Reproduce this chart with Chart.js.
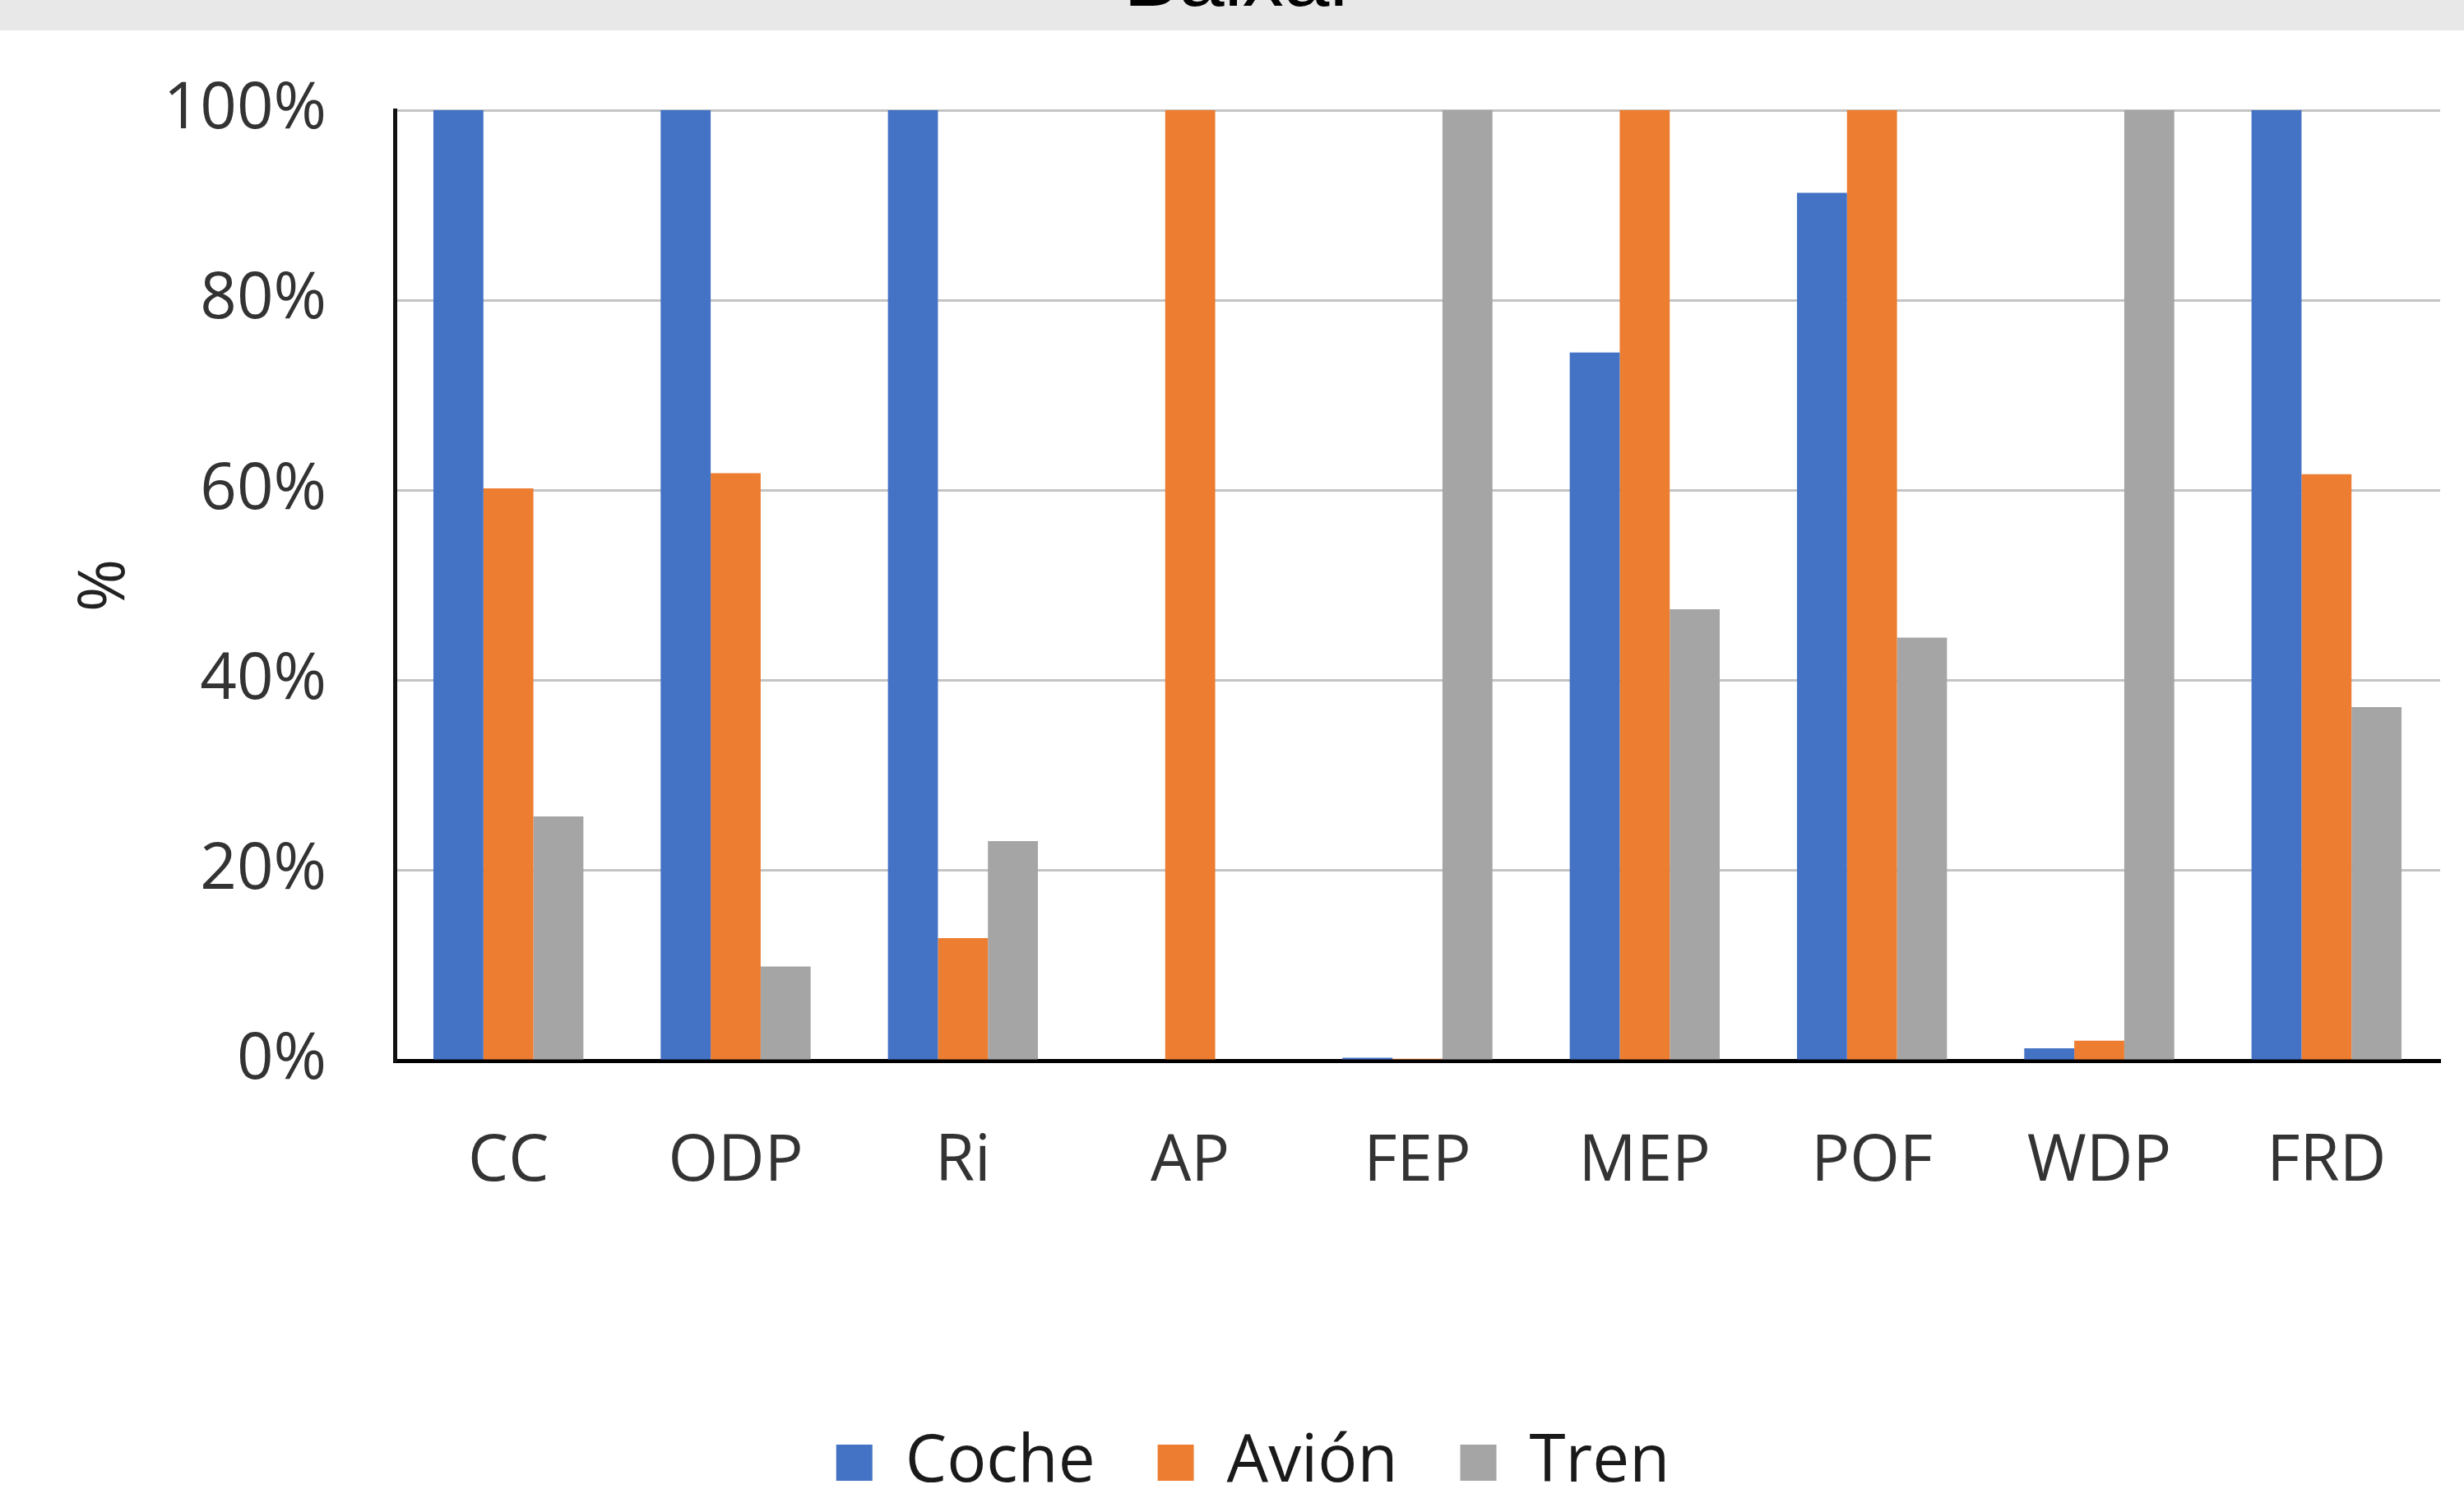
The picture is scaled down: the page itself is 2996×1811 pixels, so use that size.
<!DOCTYPE html>
<html>
<head>
<meta charset="utf-8">
<script src="https://cdn.jsdelivr.net/npm/chart.js@4.4.1/dist/chart.umd.min.js"></script>
<style>
  html, body { margin: 0; padding: 0; background: #fff; overflow: hidden; width: 2996px; height: 1811px; }
  #band { position: absolute; left: 0; top: 0; width: 2996px; height: 37px; background: #e8e8e8; overflow: hidden; }
  #band span { position: absolute; left: 0; width: 3016px; text-align: center; top: -78px; font: 100px "Liberation Sans", Arial, sans-serif; line-height: 100px; color: #000; }
  #wrap { position: absolute; left: 0; top: 37px; }
</style>
</head>
<body>
<div id="band"><span>Baixar</span></div>
<div id="wrap"><canvas id="chart" width="2996" height="1800"></canvas></div>
<script>
// data
const categories = ["CC", "ODP", "Ri", "AP", "FEP", "MEP", "POF", "WDP", "FRD"];
const coche = [100, 100, 100, 0, 0.3, 74.5, 91.3, 1.3, 100];
const avion = [60.2, 61.8, 12.9, 100, 0.2, 100, 100, 2.1, 61.7];
const tren = [25.7, 9.9, 23.1, 0, 100, 47.5, 44.5, 100, 37.2];
const yTicks = [0, 20, 40, 60, 80, 100];

const tickFont = { family: "Open Sans", size: 78 };

new Chart(document.getElementById("chart"), {
  type: "bar",
  data: {
    labels: categories,
    datasets: [
      { label: "Coche", data: coche, backgroundColor: "#4472C4" },
      { label: "Avión", data: avion, backgroundColor: "#ED7D31" },
      { label: "Tren", data: tren, backgroundColor: "#A5A5A5" },
    ],
  },
  options: {
    responsive: false,
    animation: false,
    devicePixelRatio: 1,
    datasets: { bar: { categoryPercentage: 0.66, barPercentage: 1, borderWidth: 0 } },
    layout: { padding: { top: 97, left: 80, right: 29, bottom: 8 } },
    plugins: {
      tooltip: { enabled: false },
      legend: {
        position: "bottom",
        labels: {
          font: { family: "Open Sans", size: 80 },
          color: "#1a1a1a",
          boxWidth: 44,
          boxHeight: 44,
          padding: 76,
        },
      },
    },
    scales: {
      x: {
        grid: { display: false, drawTicks: false },
        border: { display: true, color: "#000", width: 5 },
        ticks: { font: tickFont, color: "#333", padding: 77 },
        afterFit: (s) => { s.height = 373; },
      },
      y: {
        min: 0,
        max: 100,
        afterBuildTicks: (s) => { s.ticks = yTicks.map((v) => ({ value: v })); },
        grid: { color: "#c4c4c4", lineWidth: 3, drawTicks: false },
        border: { display: true, color: "#111", width: 5 },
        ticks: { font: tickFont, color: "#333", padding: 83, callback: (v) => v + "%" },
        title: { display: true, text: "%", font: tickFont, color: "#222", padding: { top: 2, bottom: 0 } },
        afterFit: (s) => {
          s.width = 400;
          s.paddingTop = 0;
          s.paddingBottom = 0;
        },
      },
    },
  },
});
</script>
</body>
</html>
